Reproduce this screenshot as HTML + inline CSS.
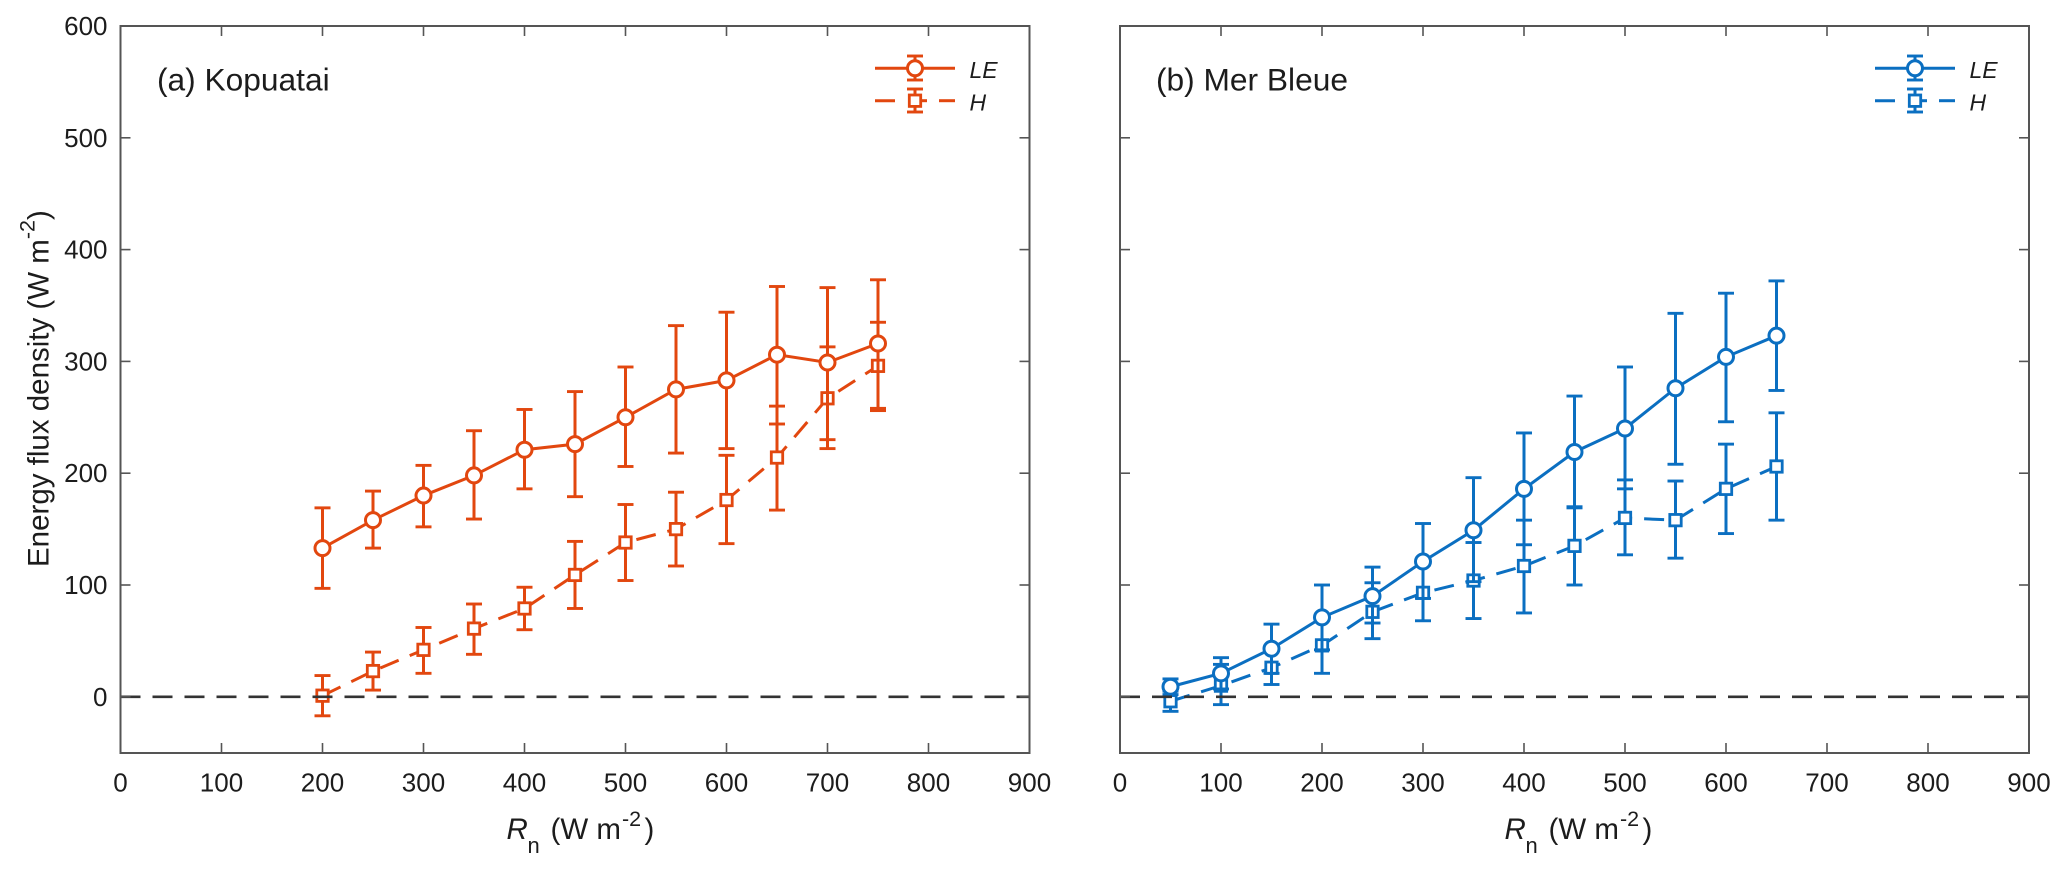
<!DOCTYPE html>
<html>
<head>
<meta charset="utf-8">
<title>Energy flux density vs net radiation</title>
<style>
html,body{margin:0;padding:0;background:#fff;}
svg{display:block;}
text{font-family:"Liberation Sans",sans-serif;fill:#1c1c1c;}
</style>
</head>
<body>
<svg id="chart" xmlns="http://www.w3.org/2000/svg" width="2067" height="871" viewBox="0 0 2067 871"></svg>
<script>
// Panel (a) Kopuatai
const kopuataiRn = [200,250,300,350,400,450,500,550,600,650,700,750];
const kopuataiLE = [133,158,180,198,221,226,250,275,283,306,299,316];
const kopuataiLEUpper = [169,184,207,238,257,273,295,332,344,367,366,373];
const kopuataiLELower = [97,133,152,159,186,179,206,218,222,244,230,258];
const kopuataiH = [1,23,42,61,79,109,138,150,176,214,267,296];
const kopuataiHUpper = [19,40,62,83,98,139,172,183,216,260,313,335];
const kopuataiHLower = [-17,6,21,38,60,79,104,117,137,167,222,256];
// Panel (b) Mer Bleue
const merBleueRn = [50,100,150,200,250,300,350,400,450,500,550,600,650];
const merBleueLE = [9,21,43,71,90,121,149,186,219,240,276,304,323];
const merBleueLEUpper = [16,35,65,100,116,155,196,236,269,295,343,361,372];
const merBleueLELower = [2,7,21,42,66,88,103,136,169,186,208,246,274];
const merBleueH = [-4,10,26,46,76,93,104,117,135,160,158,186,206];
const merBleueHUpper = [5,29,42,71,102,118,138,158,170,194,193,226,254];
const merBleueHLower = [-13,-7,11,21,52,68,70,75,100,127,124,146,158];
// Axis ticks
const xTicks = [0,100,200,300,400,500,600,700,800,900];
const yTicks = [0,100,200,300,400,500,600];

const NS = 'http://www.w3.org/2000/svg';
const root = document.getElementById('chart');
const TOP = 26, BOTTOM = 753, PANEL_W = 909;
const yScale = v => 696.8 - v * 1.118;
const xScaleFrom = x0 => v => x0 + v * 1.01;

function make(tag, attrs, parent) {
  const el = document.createElementNS(NS, tag);
  for (const k in attrs) el.setAttribute(k, attrs[k]);
  (parent || root).appendChild(el);
  return el;
}
function segment(x1, y1, x2, y2, stroke, width, parent, name) {
  const el = make('line', {x1, y1, x2, y2, stroke, 'stroke-width': width}, parent);
  
  
  return el;
}
function label(str, x, y, size, anchor, parent, name, italic) {
  const el = make('text', {x, y, 'font-size': size, 'text-anchor': anchor}, parent);
  if (italic) el.setAttribute('font-style', 'italic');
  el.textContent = str;
  
  
  return el;
}
function circleMarker(cx, cy, color, parent, name) {
  const el = make('circle', {cx, cy, r: 7.5, fill: '#fff', stroke: color, 'stroke-width': 3}, parent);
  
  
}
function squareMarker(cx, cy, color, parent, name) {
  const el = make('rect', {x: cx - 5.7, y: cy - 5.7, width: 11.4, height: 11.4, fill: '#fff', stroke: color, 'stroke-width': 2.8}, parent);
  
  
}

function drawSeries(group, xs, means, uppers, lowers, sx, color, dashed, prefix) {
  const g = make('g', {}, group);
  
  
  const pts = xs.map((x, i) => sx(x) + ',' + yScale(means[i])).join(' ');
  const line = make('polyline', {points: pts, fill: 'none', stroke: color, 'stroke-width': 3}, g);
  if (dashed) line.setAttribute('stroke-dasharray', '20 12');
  
  
  xs.forEach((x, i) => {
    const px = sx(x), hi = yScale(uppers[i]), lo = yScale(lowers[i]);
    segment(px, hi, px, lo, color, 3, g, prefix + '-error-bar');
    segment(px - 8, hi, px + 8, hi, color, 2.9, g, prefix + '-error-cap-upper');
    segment(px - 8, lo, px + 8, lo, color, 2.9, g, prefix + '-error-cap-lower');
  });
  xs.forEach((x, i) => {
    if (dashed) squareMarker(sx(x), yScale(means[i]), color, g, prefix + '-point');
    else circleMarker(sx(x), yScale(means[i]), color, g, prefix + '-point');
  });
}

function drawLegend(group, dx, color) {
  const g = make('g', {}, group);
  
  
  const y1 = 68.3, y2 = 100.7, cx = 915 + dx;
  segment(875 + dx, y1, 955 + dx, y1, color, 3, g, 'legend-le-line');
  segment(cx, 56, cx, 80, color, 3, g, 'legend-le-error-bar');
  segment(cx - 8, 56, cx + 8, 56, color, 2.9, g, 'legend-le-cap-upper');
  segment(cx - 8, 80, cx + 8, 80, color, 2.9, g, 'legend-le-cap-lower');
  circleMarker(cx, y1, color, g, 'legend-le-marker');
  segment(875 + dx, y2, 895 + dx, y2, color, 3, g, 'legend-h-dash-left');
  segment(cx, y2, 927 + dx, y2, color, 3, g, 'legend-h-dash-middle');
  segment(939 + dx, y2, 955 + dx, y2, color, 3, g, 'legend-h-dash-right');
  segment(cx, 89, cx, 112, color, 3, g, 'legend-h-error-bar');
  segment(cx - 8, 89, cx + 8, 89, color, 2.9, g, 'legend-h-cap-upper');
  segment(cx - 8, 112, cx + 8, 112, color, 2.9, g, 'legend-h-cap-lower');
  squareMarker(cx, y2, color, g, 'legend-h-marker');
  label('LE', 969.5 + dx, 78, 23, 'start', g, 'legend-le-label', true);
  label('H', 969.5 + dx, 110.5, 23, 'start', g, 'legend-h-label', true);
}

function drawXTitle(group, dx) {
  const g = make('g', {}, group);
  
  
  label('R', 506.5 + dx, 839, 29.5, 'start', g, 'x-title-symbol', true);
  label('n', 527.5 + dx, 853, 22, 'start', g, 'x-title-subscript');
  label('(W m', 550.5 + dx, 839, 29.5, 'start', g, 'x-title-unit');
  label('-2', 622 + dx, 826, 21.5, 'start', g, 'x-title-exponent');
  label(')', 644.5 + dx, 839, 29.5, 'start', g, 'x-title-close-paren');
}

function drawPanel(opt) {
  const g = make('g', {});
  
  
  const x0 = opt.x0, x1 = x0 + PANEL_W, sx = xScaleFrom(x0);

  drawSeries(g, opt.rn, opt.h, opt.hUp, opt.hLo, sx, opt.color, true, 'h');
  drawSeries(g, opt.rn, opt.le, opt.leUp, opt.leLo, sx, opt.color, false, 'le');

  const zero = segment(x0, yScale(0), x1, yScale(0), '#333', 2.6, g, 'zero-reference-line');
  zero.setAttribute('stroke-dasharray', '20 12');

  const frame = make('rect', {x: x0, y: TOP, width: PANEL_W, height: BOTTOM - TOP, fill: 'none', stroke: '#555', 'stroke-width': 2}, g);
  
  

  xTicks.forEach(t => {
    segment(sx(t), BOTTOM, sx(t), BOTTOM - 10, '#555', 1.6, g, 'x-tick');
    segment(sx(t), TOP, sx(t), TOP + 10, '#555', 1.6, g, 'x-tick-top');
    label(String(t), sx(t), 791.5, 26, 'middle', g, 'x-tick-label');
  });
  yTicks.forEach(t => {
    segment(x0, yScale(t), x0 + 10, yScale(t), '#555', 1.6, g, 'y-tick');
    segment(x1, yScale(t), x1 - 10, yScale(t), '#555', 1.6, g, 'y-tick-right');
    if (opt.yLabels) label(String(t), x0 - 13, yScale(t) + 9, 26, 'end', g, 'y-tick-label');
  });

  label(opt.title, opt.titleX, 90.5, 31.7, 'start', g, 'panel-title');
  drawLegend(g, opt.legendDx, opt.color);
  drawXTitle(g, opt.labelDx);
}

drawPanel({name: 'panel-kopuatai', x0: 120.5, color: '#E2470F', yLabels: true,
  title: '(a) Kopuatai', titleX: 157, legendDx: 0, labelDx: 0,
  rn: kopuataiRn, le: kopuataiLE, leUp: kopuataiLEUpper, leLo: kopuataiLELower,
  h: kopuataiH, hUp: kopuataiHUpper, hLo: kopuataiHLower});
drawPanel({name: 'panel-mer-bleue', x0: 1120, color: '#0B6FC1', yLabels: false,
  title: '(b) Mer Bleue', titleX: 1156, legendDx: 1000, labelDx: 998,
  rn: merBleueRn, le: merBleueLE, leUp: merBleueLEUpper, leLo: merBleueLELower,
  h: merBleueH, hUp: merBleueHUpper, hLo: merBleueHLower});

const yTitle = make('text', {transform: 'translate(48.5,567) rotate(-90)', 'font-size': 29.5, x: 0, y: 0});


const part1 = make('tspan', {}, yTitle);
part1.textContent = 'Energy flux density (W m';
const part2 = make('tspan', {dy: -14, 'font-size': 21.5}, yTitle);
part2.textContent = '-2';
const part3 = make('tspan', {dy: 14}, yTitle);
part3.textContent = ')';
</script>
</body>
</html>
